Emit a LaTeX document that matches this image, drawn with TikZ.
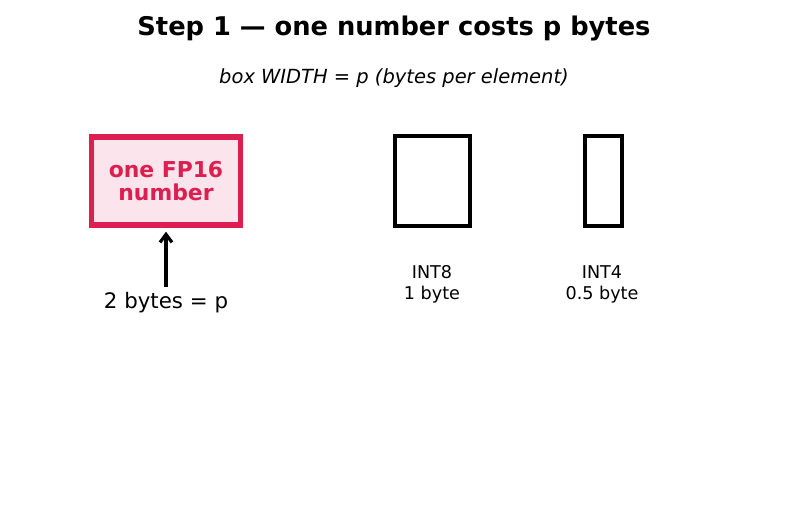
\documentclass[tikz,border=0pt]{standalone}
\usepackage{fontspec}
\setmainfont{DejaVu Sans}
\usetikzlibrary{arrows.meta}
\definecolor{crim}{RGB}{220,30,80}
\definecolor{pinkfill}{RGB}{252,228,236}
\tikzset{
  px/.style={x=0.75pt,y=-0.75pt},
  hibox/.style={draw=crim,fill=pinkfill,line width=4pt,inner sep=0pt,
    minimum width=111.75pt,minimum height=66pt,text=crim,align=center,
    font=\bfseries\fontsize{16.4}{17.25}\selectfont},
  plainbox/.style={draw=black,line width=3.4pt,inner sep=0pt,minimum height=67.5pt},
  lbl/.style={align=center,font=\fontsize{13.2}{15.75}\selectfont},
}
\begin{document}
\begin{tikzpicture}[px]
\useasboundingbox (0,0) rectangle (787,512);
\node[font=\bfseries\fontsize{19.3}{22}\selectfont] (title) at (394,28) {Step 1 — one number costs p bytes};
\node[font=\itshape\fontsize{14.6}{17}\selectfont] (sub) at (394,78) {box WIDTH = p (bytes per element)};
\node[hibox] (fp16) at (166,181) {one FP16\\number};
\node[font=\fontsize{16}{18}\selectfont] (two) at (166,303) {2 bytes = p};
\coordinate (astart) at (166,287);
\draw[line width=2.4pt,-{Straight Barb[length=6pt,width=9pt]}] (astart) -- ([yshift=-3pt]fp16.south);
\node[plainbox,minimum width=56.25pt] (int8) at (432.5,181) {};
\node[plainbox,minimum width=27.75pt] (int4) at (603.5,181) {};
\node[lbl] (l8) at (432,284.5) {INT8\\1 byte};
\node[lbl] (l4) at (602,284.5) {INT4\\0.5 byte};
\end{tikzpicture}
\end{document}
